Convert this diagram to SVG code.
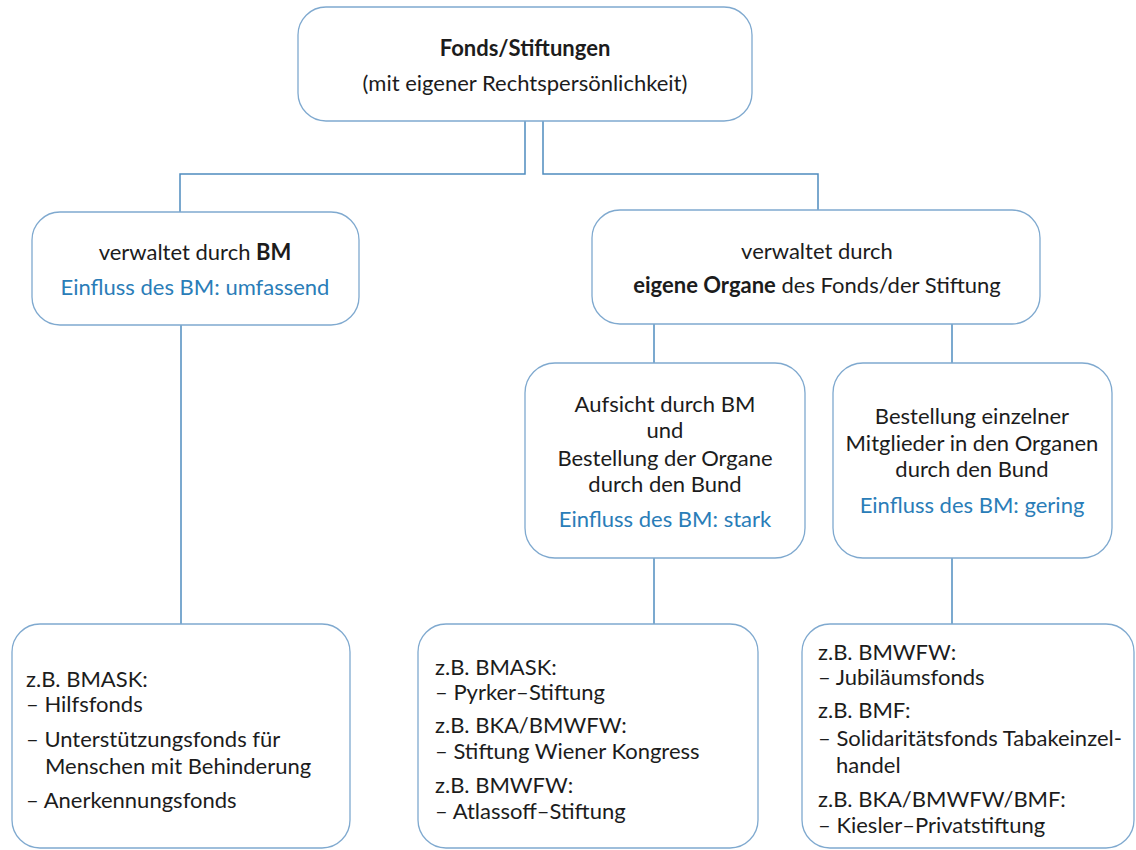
<svg xmlns="http://www.w3.org/2000/svg" width="1136" height="850" viewBox="0 0 1136 850">
<style>
.box{fill:#ffffff;stroke:#7fa9cf;stroke-width:1.3}
.con{fill:none;stroke:#4f8cbf;stroke-width:1.5}
text{font-family:Lato,"Liberation Sans",sans-serif;font-size:22px;fill:#1c1c1c}
.c{text-anchor:middle}
.b{font-weight:bold}
.blue{fill:#2a7db8}
</style>
<rect width="1136" height="850" fill="#ffffff"/>
<g id="connectors">
<path class="con" d="M525,121 V174 H180 V212"/>
<path class="con" d="M543,121 V174 H818 V210"/>
<path class="con" d="M181,325 V624"/>
<path class="con" d="M654,324 V363"/>
<path class="con" d="M952,324 V363"/>
<path class="con" d="M654,558 V624"/>
<path class="con" d="M952,558 V624"/>
</g>
<g id="n_top">
<rect class="box" x="298" y="7" width="454" height="114" rx="28"/>
<text class="c b" x="525" y="56">Fonds/Stiftungen</text>
<text class="c" x="525" y="91">(mit eigener Rechtspersönlichkeit)</text>
</g>
<g id="n_bm">
<rect class="box" x="32" y="212" width="327" height="113" rx="28"/>
<text class="c" x="195" y="260">verwaltet durch <tspan class="b">BM</tspan></text>
<text class="c blue" x="195" y="295">Einfluss des BM: umfassend</text>
</g>
<g id="n_organe">
<rect class="box" x="592" y="210" width="448" height="114" rx="28"/>
<text class="c" x="817" y="259">verwaltet durch</text>
<text class="c" x="817" y="293"><tspan class="b">eigene Organe</tspan> des Fonds/der Stiftung</text>
</g>
<g id="n_aufsicht">
<rect class="box" x="525" y="363" width="280" height="195" rx="30"/>
<text class="c" x="665" y="412">Aufsicht durch BM</text>
<text class="c" x="665" y="438">und</text>
<text class="c" x="665" y="466">Bestellung der Organe</text>
<text class="c" x="665" y="492">durch den Bund</text>
<text class="c blue" x="665" y="527">Einfluss des BM: stark</text>
</g>
<g id="n_bestellung">
<rect class="box" x="833" y="363" width="279" height="195" rx="30"/>
<text class="c" x="972" y="424">Bestellung einzelner</text>
<text class="c" x="972" y="451">Mitglieder in den Organen</text>
<text class="c" x="972" y="477">durch den Bund</text>
<text class="c blue" x="972" y="513">Einfluss des BM: gering</text>
</g>
<g id="n_ex1">
<rect class="box" x="12" y="624" width="338" height="224" rx="28"/>
<text x="26" y="687">z.B. BMASK:</text>
<text x="26" y="712">– Hilfsfonds</text>
<text x="26" y="747">– Unterstützungsfonds für</text>
<text x="45" y="774">Menschen mit Behinderung</text>
<text x="26" y="808">– Anerkennungsfonds</text>
</g>
<g id="n_ex2">
<rect class="box" x="418" y="624" width="340" height="224" rx="28"/>
<text x="435" y="675">z.B. BMASK:</text>
<text x="435" y="700">– Pyrker–Stiftung</text>
<text x="435" y="733">z.B. BKA/BMWFW:</text>
<text x="435" y="759">– Stiftung Wiener Kongress</text>
<text x="435" y="793">z.B. BMWFW:</text>
<text x="435" y="819">– Atlassoff–Stiftung</text>
</g>
<g id="n_ex3">
<rect class="box" x="802" y="624" width="332" height="224" rx="28"/>
<text x="818" y="660">z.B. BMWFW:</text>
<text x="818" y="685">– Jubiläumsfonds</text>
<text x="818" y="718">z.B. BMF:</text>
<text x="818" y="746">– Solidaritätsfonds Tabakeinzel-</text>
<text x="836" y="773">handel</text>
<text x="818" y="807">z.B. BKA/BMWFW/BMF:</text>
<text x="818" y="833">– Kiesler–Privatstiftung</text>
</g>
</svg>
